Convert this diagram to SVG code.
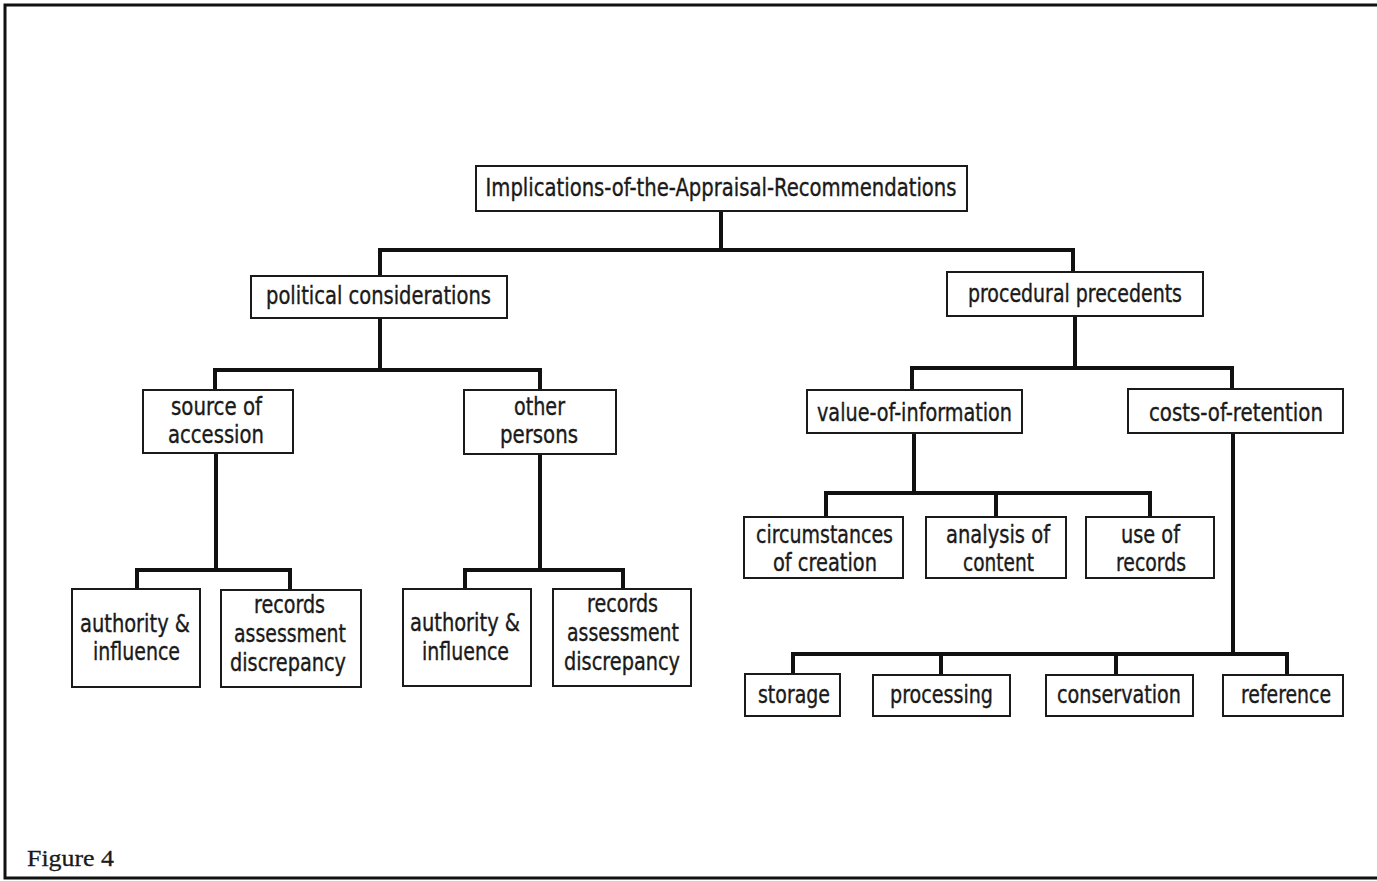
<svg xmlns="http://www.w3.org/2000/svg" width="1377" height="881" viewBox="0 0 1377 881">
<style>
.box{fill:#fff;stroke:#1a1a1a;stroke-width:2}
.t{font-family:"Liberation Sans Narrow","DejaVu Sans Condensed","Liberation Sans",sans-serif;font-size:24px;fill:#1a1a1a;stroke:#1a1a1a;stroke-width:0.35px;text-anchor:middle}
.c{fill:none;stroke:#111;stroke-width:4;stroke-linejoin:miter;stroke-linecap:butt}
.frame{fill:none;stroke:#111;stroke-width:3}
.fig{font-family:"Liberation Serif",serif;font-size:24px;fill:#1a1a1a;stroke:#1a1a1a;stroke-width:0.3px}
</style>
<rect x="0" y="0" width="1377" height="881" fill="#fff"/>
<rect class="frame" x="5" y="5" width="1385" height="873"/>
<g id="connectors">
<path class="c" d="M721 211 V250 M380 276 V250 H1073 V272"/>
<path class="c" d="M380 318 V370 M215 390 V370 H540 V390"/>
<path class="c" d="M216 453 V570 M137 589 V570 H290 V590"/>
<path class="c" d="M540 454 V570 M465 589 V570 H623 V589"/>
<path class="c" d="M1075 316 V368 M912 390 V368 H1232 V389"/>
<path class="c" d="M914 433 V493 M826 517 V493 H1150 V517 M996 493 V517"/>
<path class="c" d="M1233 433 V654 M793 674 V654 H1287 V675 M941 654 V675 M1116 654 V675"/>
</g>
<g id="root"><rect class="box" x="476" y="166" width="491" height="45"/><text class="t" x="721" y="196" font-size="25" textLength="471" lengthAdjust="spacingAndGlyphs">Implications-of-the-Appraisal-Recommendations</text></g>
<g id="political"><rect class="box" x="251" y="276" width="256" height="42"/><text class="t" x="378.5" y="304" textLength="225" lengthAdjust="spacingAndGlyphs">political considerations</text></g>
<g id="procedural"><rect class="box" x="947" y="272" width="256" height="44"/><text class="t" x="1075" y="302" textLength="214" lengthAdjust="spacingAndGlyphs">procedural precedents</text></g>
<g id="source"><rect class="box" x="143" y="390" width="150" height="63"/><text class="t" x="216.5" y="415" textLength="91" lengthAdjust="spacingAndGlyphs">source of</text><text class="t" x="216" y="443" textLength="96" lengthAdjust="spacingAndGlyphs">accession</text></g>
<g id="other"><rect class="box" x="464" y="390" width="152" height="64"/><text class="t" x="539.5" y="415" textLength="51" lengthAdjust="spacingAndGlyphs">other</text><text class="t" x="539" y="443" textLength="78" lengthAdjust="spacingAndGlyphs">persons</text></g>
<g id="authority1"><rect class="box" x="72" y="589" width="128" height="98"/><text class="t" x="135" y="632" textLength="110" lengthAdjust="spacingAndGlyphs">authority &amp;</text><text class="t" x="136.5" y="660" textLength="87" lengthAdjust="spacingAndGlyphs">influence</text></g>
<g id="records1"><rect class="box" x="221" y="590" width="140" height="97"/><text class="t" x="289.5" y="613" textLength="71" lengthAdjust="spacingAndGlyphs">records</text><text class="t" x="290" y="642" textLength="112" lengthAdjust="spacingAndGlyphs">assessment</text><text class="t" x="288" y="671" textLength="116" lengthAdjust="spacingAndGlyphs">discrepancy</text></g>
<g id="authority2"><rect class="box" x="403" y="589" width="128" height="97"/><text class="t" x="465" y="631" textLength="110" lengthAdjust="spacingAndGlyphs">authority &amp;</text><text class="t" x="465.5" y="660" textLength="87" lengthAdjust="spacingAndGlyphs">influence</text></g>
<g id="records2"><rect class="box" x="553" y="589" width="138" height="97"/><text class="t" x="622.5" y="612" textLength="71" lengthAdjust="spacingAndGlyphs">records</text><text class="t" x="623" y="641" textLength="112" lengthAdjust="spacingAndGlyphs">assessment</text><text class="t" x="622" y="670" textLength="116" lengthAdjust="spacingAndGlyphs">discrepancy</text></g>
<g id="value"><rect class="box" x="807" y="390" width="215" height="43"/><text class="t" x="914.5" y="421" textLength="195" lengthAdjust="spacingAndGlyphs">value-of-information</text></g>
<g id="costs"><rect class="box" x="1128" y="389" width="215" height="44"/><text class="t" x="1236" y="421" textLength="174" lengthAdjust="spacingAndGlyphs">costs-of-retention</text></g>
<g id="circumstances"><rect class="box" x="744" y="517" width="159" height="61"/><text class="t" x="824.5" y="543" textLength="137" lengthAdjust="spacingAndGlyphs">circumstances</text><text class="t" x="825" y="571" textLength="104" lengthAdjust="spacingAndGlyphs">of creation</text></g>
<g id="analysis"><rect class="box" x="926" y="517" width="140" height="61"/><text class="t" x="998" y="543" textLength="104" lengthAdjust="spacingAndGlyphs">analysis of</text><text class="t" x="998.5" y="571" textLength="71" lengthAdjust="spacingAndGlyphs">content</text></g>
<g id="use"><rect class="box" x="1086" y="517" width="128" height="61"/><text class="t" x="1150.5" y="543" textLength="59" lengthAdjust="spacingAndGlyphs">use of</text><text class="t" x="1151" y="571" textLength="70" lengthAdjust="spacingAndGlyphs">records</text></g>
<g id="storage"><rect class="box" x="745" y="674" width="95" height="42"/><text class="t" x="794" y="703" textLength="72" lengthAdjust="spacingAndGlyphs">storage</text></g>
<g id="processing"><rect class="box" x="873" y="675" width="137" height="41"/><text class="t" x="941.5" y="703" textLength="103" lengthAdjust="spacingAndGlyphs">processing</text></g>
<g id="conservation"><rect class="box" x="1046" y="675" width="147" height="41"/><text class="t" x="1119" y="703" textLength="124" lengthAdjust="spacingAndGlyphs">conservation</text></g>
<g id="reference"><rect class="box" x="1223" y="675" width="120" height="41"/><text class="t" x="1286" y="703" textLength="90" lengthAdjust="spacingAndGlyphs">reference</text></g>
<text class="fig" x="27" y="866" textLength="87" lengthAdjust="spacingAndGlyphs">Figure 4</text>
</svg>
